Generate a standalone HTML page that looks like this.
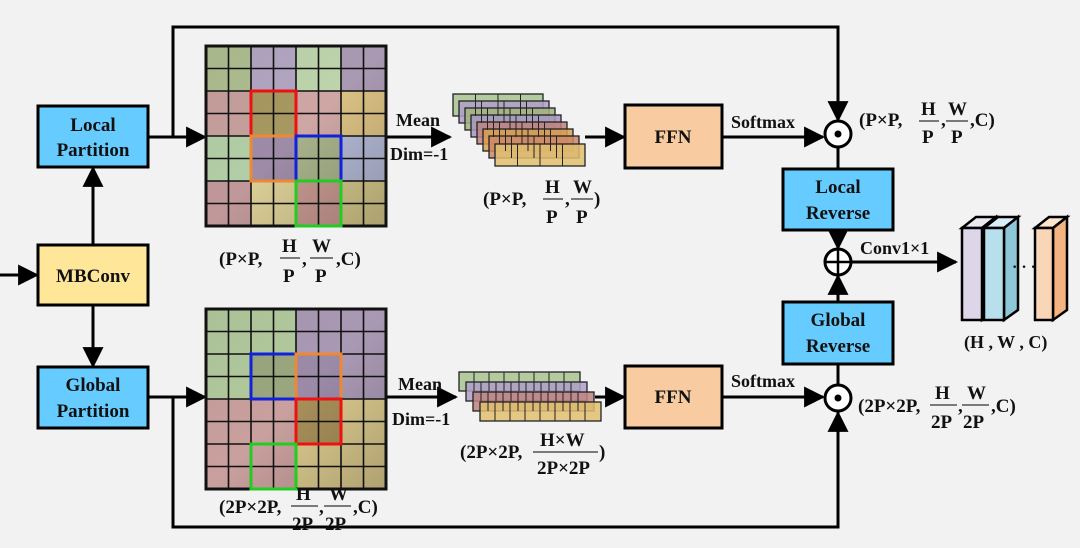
<!DOCTYPE html>
<html><head><meta charset="utf-8"><style>
html,body{margin:0;padding:0;background:#f2f2f2;}
svg{display:block;}
text{font-family:"Liberation Serif",serif;font-weight:bold;fill:#111;}
</style></head><body>
<svg width="1080" height="548" viewBox="0 0 1080 548" xmlns="http://www.w3.org/2000/svg">
<defs>
<marker id="a" viewBox="0 0 10 10" refX="9" refY="5" markerWidth="7" markerHeight="7" orient="auto-start-reverse"><path d="M0,0 L10,5 L0,10 z" fill="#000"/></marker>
<linearGradient id="shade" x1="0" y1="0" x2="1" y2="1"><stop offset="0" stop-color="#000" stop-opacity="0.05"/><stop offset="0.5" stop-color="#000" stop-opacity="0"/><stop offset="1" stop-color="#000" stop-opacity="0.2"/></linearGradient>
</defs>
<rect width="1080" height="548" fill="#f2f2f2"/>

<g stroke="#000" stroke-width="3" fill="none">
<!-- input -->
<line x1="0" y1="275" x2="37" y2="275" marker-end="url(#a)"/>
<line x1="93" y1="245" x2="93" y2="168" marker-end="url(#a)"/>
<line x1="93" y1="305" x2="93" y2="366" marker-end="url(#a)"/>
<!-- top -->
<line x1="148" y1="137" x2="205" y2="137" marker-end="url(#a)"/>
<polyline points="173,137 173,27 838,27 838,120" />
<line x1="838" y1="100" x2="838" y2="120" marker-end="url(#a)"/>
<line x1="387" y1="137" x2="450" y2="137" marker-end="url(#a)"/>
<line x1="585" y1="137" x2="624" y2="137" marker-end="url(#a)"/>
<line x1="722" y1="137" x2="823" y2="137" marker-end="url(#a)"/>
<line x1="838" y1="148" x2="838" y2="169"/>
<line x1="838" y1="230" x2="838" y2="248" marker-end="url(#a)"/>
<line x1="838" y1="302" x2="838" y2="276" marker-end="url(#a)"/>
<line x1="838" y1="364" x2="838" y2="384"/>
<line x1="852" y1="262" x2="956" y2="262" marker-end="url(#a)"/>
<!-- bottom -->
<line x1="148" y1="397" x2="205" y2="397" marker-end="url(#a)"/>
<polyline points="173,397 173,527 838,527 838,412"/>
<line x1="838" y1="440" x2="838" y2="413" marker-end="url(#a)"/>
<line x1="387" y1="397" x2="456" y2="397" marker-end="url(#a)"/>
<line x1="595" y1="397" x2="624" y2="397" marker-end="url(#a)"/>
<line x1="722" y1="397" x2="823" y2="397" marker-end="url(#a)"/>
</g>

<!-- boxes -->
<g stroke="#000" stroke-width="3">
<rect x="38" y="106" width="110" height="61" fill="#66ccff"/>
<rect x="38" y="245" width="110" height="60" fill="#ffe699"/>
<rect x="38" y="367" width="110" height="61" fill="#66ccff"/>
<rect x="625" y="105" width="97" height="63" fill="#f8cba0"/>
<rect x="625" y="366" width="97" height="62" fill="#f8cba0"/>
<rect x="783" y="169" width="110" height="61" fill="#66ccff"/>
<rect x="783" y="302" width="110" height="62" fill="#66ccff"/>
</g>
<g font-size="19" text-anchor="middle">
<text x="93" y="131">Local</text><text x="93" y="156">Partition</text>
<text x="93" y="282">MBConv</text>
<text x="93" y="391">Global</text><text x="93" y="417">Partition</text>
<text x="673" y="143">FFN</text>
<text x="673" y="403">FFN</text>
<text x="838" y="193">Local</text><text x="838" y="219">Reverse</text>
<text x="838" y="326">Global</text><text x="838" y="352">Reverse</text>
</g>
<g font-size="18">
<text x="396" y="126">Mean</text><text x="390" y="160">Dim=-1</text>
<text x="398" y="390">Mean</text><text x="392" y="425">Dim=-1</text>
<text x="731" y="128">Softmax</text>
<text x="731" y="387">Softmax</text>
<text x="860" y="254">Conv1×1</text>
</g>

<!-- circles -->
<g stroke="#000" stroke-width="3" fill="#fff">
<circle cx="838" cy="134" r="13"/>
<circle cx="838" cy="398" r="13"/>
<circle cx="838" cy="262" r="13"/>
</g>
<circle cx="838" cy="134" r="3.5" fill="#000"/>
<circle cx="838" cy="398" r="3.5" fill="#000"/>
<g stroke="#000" stroke-width="2.5"><line x1="825" y1="262" x2="851" y2="262"/><line x1="838" y1="249" x2="838" y2="275"/></g>

<!-- top grid -->
<g transform="translate(206,46)">
<g opacity="0.85">
<rect x="0" y="0" width="45" height="45" fill="#a5b882"/><rect x="45" y="0" width="45" height="45" fill="#a99abb"/><rect x="90" y="0" width="45" height="45" fill="#b5cfa0"/><rect x="135" y="0" width="45" height="45" fill="#9e8aa8"/>
<rect x="0" y="45" width="45" height="45" fill="#c09490"/><rect x="45" y="45" width="45" height="45" fill="#9c8a4a"/><rect x="90" y="45" width="45" height="45" fill="#c89a98"/><rect x="135" y="45" width="45" height="45" fill="#d6b870"/>
<rect x="0" y="90" width="45" height="45" fill="#a9c99a"/><rect x="45" y="90" width="45" height="45" fill="#8f7a9c"/><rect x="90" y="90" width="45" height="45" fill="#9aa878"/><rect x="135" y="90" width="45" height="45" fill="#aab0d0"/>
<rect x="0" y="135" width="45" height="45" fill="#b8898a"/><rect x="45" y="135" width="45" height="45" fill="#d8c886"/><rect x="90" y="135" width="45" height="45" fill="#c08a80"/><rect x="135" y="135" width="45" height="45" fill="#d2c27a"/>
</g>
<rect width="180" height="180" fill="url(#shade)"/>
<g stroke="#111" stroke-width="1.6">
<path d="M22.5,0V180M45,0V180M67.5,0V180M90,0V180M112.5,0V180M135,0V180M157.5,0V180M0,22.5H180M0,45H180M0,67.5H180M0,90H180M0,112.5H180M0,135H180M0,157.5H180"/>
</g>
<rect width="180" height="180" fill="none" stroke="#111" stroke-width="3"/>
<g fill="none" stroke-width="3">
<rect x="45" y="45" width="45" height="45" stroke="#ee1111"/>
<rect x="45" y="90" width="45" height="45" stroke="#ee8833"/>
<rect x="90" y="90" width="45" height="45" stroke="#1122dd"/>
<rect x="90" y="135" width="45" height="45" stroke="#22cc22"/>
</g>
</g>

<!-- bottom grid -->
<g transform="translate(206,309)">
<g opacity="0.85">
<rect x="0" y="0" width="90" height="90" fill="#a9c490"/><rect x="90" y="0" width="90" height="90" fill="#9e8aaa"/>
<rect x="0" y="90" width="90" height="90" fill="#c29290"/><rect x="90" y="90" width="90" height="90" fill="#d8c27c"/>
<rect x="45" y="45" width="45" height="45" fill="#8c9a6a"/><rect x="90" y="45" width="45" height="45" fill="#8c789c"/><rect x="90" y="90" width="45" height="45" fill="#9c8040"/>
</g>
<rect width="180" height="180" fill="url(#shade)"/>
<g stroke="#111" stroke-width="1.6">
<path d="M22.5,0V180M45,0V180M67.5,0V180M90,0V180M112.5,0V180M135,0V180M157.5,0V180M0,22.5H180M0,45H180M0,67.5H180M0,90H180M0,112.5H180M0,135H180M0,157.5H180"/>
</g>
<rect width="180" height="180" fill="none" stroke="#111" stroke-width="3"/>
<g fill="none" stroke-width="3">
<rect x="45" y="45" width="45" height="45" stroke="#1122dd"/>
<rect x="90" y="45" width="45" height="45" stroke="#ee8833"/>
<rect x="90" y="90" width="45" height="45" stroke="#ee1111"/>
<rect x="45" y="135" width="45" height="45" stroke="#22cc22"/>
</g>
</g>

<!-- top stack -->
<g stroke="#222" stroke-width="1.3" fill-opacity="0.85">
<g fill="#a9c490"><rect x="453" y="94" width="90" height="22"/></g>
<g fill="#b0a0c8"><rect x="459" y="101" width="90" height="22"/></g>
<g fill="#a2b47e"><rect x="465" y="108" width="90" height="22"/></g>
<g fill="#a898c0"><rect x="471" y="115" width="90" height="22"/></g>
<g fill="#c08480"><rect x="477" y="122" width="90" height="22"/></g>
<g fill="#d8a050"><rect x="483" y="129" width="90" height="22"/></g>
<g fill="#cc8868"><rect x="489" y="136" width="90" height="22"/></g>
<g fill="#e0c070"><rect x="495" y="144" width="90" height="22"/></g>
</g>
<g stroke="#222" stroke-width="1">
<path d="M475.5,94v22M498,94v22M520.5,94v22 M481.5,101v22M504,101v22M526.5,101v22 M487.5,108v22M510,108v22M532.5,108v22 M493.5,115v22M516,115v22M538.5,115v22 M499.5,122v22M522,122v22M544.5,122v22 M505.5,129v22M528,129v22M550.5,129v22 M511.5,136v22M534,136v22M556.5,136v22 M517.5,144v22M540,144v22M562.5,144v22"/>
</g>

<!-- bottom stack -->
<g stroke="#222" stroke-width="1.3" fill-opacity="0.85">
<rect x="459" y="372" width="121" height="19" fill="#a9c490"/>
<rect x="466" y="382" width="121" height="19" fill="#b0a0c8"/>
<rect x="473" y="392" width="121" height="19" fill="#c08480"/>
<rect x="480" y="402" width="121" height="19" fill="#e0c070"/>
</g>
<g stroke="#222" stroke-width="1" id="bl">
<path d="M474,372v19M489,372v19M504,372v19M519,372v19M534,372v19M549,372v19M564,372v19"/>
<path d="M481,382v19M496,382v19M511,382v19M526,382v19M541,382v19M556,382v19M571,382v19"/>
<path d="M488,392v19M503,392v19M518,392v19M533,392v19M548,392v19M563,392v19M578,392v19"/>
<path d="M495,402v19M510,402v19M525,402v19M540,402v19M555,402v19M570,402v19M585,402v19"/>
</g>

<!-- output blocks -->
<g stroke="#000" stroke-width="2.5">
<polygon points="962,228 976,217 996,217 982,228" fill="#ece8f2"/>
<polygon points="982,228 996,217 996,310 982,320" fill="#c8c0d8"/>
<rect x="962" y="228" width="20" height="92" fill="#dcd6e8"/>
<polygon points="984,228 998,217 1018,217 1004,228" fill="#d8eef6"/>
<polygon points="1004,228 1018,217 1018,310 1004,320" fill="#8ec8d8"/>
<rect x="984" y="228" width="20" height="92" fill="#b8e0ec"/>
<polygon points="1035,228 1049,217 1067,217 1053,228" fill="#fde4cc"/>
<polygon points="1053,228 1067,217 1067,310 1053,320" fill="#f4b482"/>
<rect x="1035" y="228" width="18" height="92" fill="#fad6b8"/>
</g>
<text x="1012" y="272" font-size="16">· · ·</text>
<text x="964" y="348" font-size="18">(H , W , C)</text>

<!-- formula labels -->
<g font-size="19">
<!-- top grid label -->
<text x="219" y="265">(P×P,</text>
<text x="282" y="252">H</text><line x1="280" y1="258" x2="300" y2="258" stroke="#333" stroke-width="1.2"/><text x="283" y="282">P</text>
<text x="302" y="265">,</text>
<text x="312" y="252">W</text><line x1="310" y1="258" x2="333" y2="258" stroke="#333" stroke-width="1.2"/><text x="315" y="282">P</text>
<text x="336" y="265">,C)</text>
<!-- top stack label -->
<text x="483" y="205">(P×P,</text>
<text x="545" y="193">H</text><line x1="543" y1="199" x2="563" y2="199" stroke="#333" stroke-width="1.2"/><text x="546" y="223">P</text>
<text x="565" y="205">,</text>
<text x="573" y="193">W</text><line x1="571" y1="199" x2="593" y2="199" stroke="#333" stroke-width="1.2"/><text x="576" y="223">P</text>
<text x="594" y="205">)</text>
<!-- right top -->
<text x="859" y="126">(P×P,</text>
<text x="921" y="115">H</text><line x1="919" y1="121" x2="939" y2="121" stroke="#333" stroke-width="1.2"/><text x="922" y="143">P</text>
<text x="941" y="126">,</text>
<text x="948" y="115">W</text><line x1="946" y1="121" x2="968" y2="121" stroke="#333" stroke-width="1.2"/><text x="951" y="143">P</text>
<text x="970" y="126">,C)</text>
<!-- bottom grid label -->
<text x="219" y="513">(2P×2P,</text>
<text x="296" y="500">H</text><line x1="291" y1="506" x2="318" y2="506" stroke="#333" stroke-width="1.2"/><text x="292" y="530">2P</text>
<text x="319" y="513">,</text>
<text x="329" y="500">W</text><line x1="324" y1="506" x2="351" y2="506" stroke="#333" stroke-width="1.2"/><text x="325" y="530">2P</text>
<text x="353" y="513">,C)</text>
<!-- bottom stack label -->
<text x="460" y="458">(2P×2P,</text>
<text x="540" y="446">H×W</text><line x1="533" y1="452" x2="598" y2="452" stroke="#333" stroke-width="1.2"/><text x="537" y="474">2P×2P</text>
<text x="599" y="458">)</text>
<!-- right bottom -->
<text x="858" y="412">(2P×2P,</text>
<text x="935" y="399">H</text><line x1="930" y1="405" x2="957" y2="405" stroke="#333" stroke-width="1.2"/><text x="931" y="428">2P</text>
<text x="958" y="412">,</text>
<text x="967" y="399">W</text><line x1="962" y1="405" x2="989" y2="405" stroke="#333" stroke-width="1.2"/><text x="963" y="428">2P</text>
<text x="991" y="412">,C)</text>
</g>
</svg>
</body></html>
